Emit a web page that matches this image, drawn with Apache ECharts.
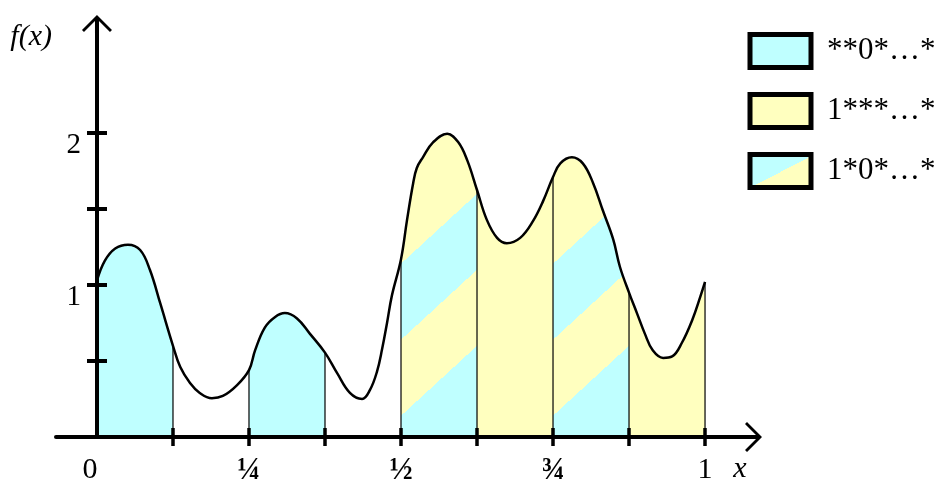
<!DOCTYPE html>
<html><head><meta charset="utf-8">
<script src="https://cdn.jsdelivr.net/npm/echarts@6/dist/echarts.min.js"></script>
<style>html,body{margin:0;padding:0;background:#fff}#c{width:938px;height:479px}</style>
</head><body><div id="c"></div>
<script>
// ---- data ----
const curveX = [0.000,0.013,0.030,0.051,0.071,0.087,0.104,0.125,0.137,0.153,0.169,0.189,0.207,0.230,0.250,0.260,0.276,0.293,0.309,0.329,0.350,0.375,0.395,0.416,0.436,0.449,0.4605,0.469,0.477,0.485,0.500,0.510,0.520,0.526,0.536,0.553,0.576,0.594,0.609,0.625,0.641,0.658,0.674,0.696,0.717,0.734,0.750,0.762,0.781,0.799,0.816,0.832,0.849,0.860,0.875,0.888,0.901,0.914,0.931,0.946,0.962,0.979,0.992,1.000];
const curveY = [1.03,1.16,1.24,1.265,1.23,1.10,0.88,0.60,0.46,0.355,0.29,0.255,0.27,0.34,0.44,0.57,0.72,0.79,0.815,0.78,0.68,0.555,0.42,0.29,0.25,0.31,0.43,0.58,0.75,0.93,1.17,1.43,1.67,1.77,1.84,1.94,1.995,1.94,1.82,1.625,1.43,1.31,1.275,1.31,1.42,1.555,1.71,1.80,1.84,1.80,1.67,1.49,1.30,1.12,0.95,0.815,0.68,0.57,0.52,0.53,0.62,0.77,0.92,1.02];
const segCyan = [[0, 0.125], [0.25, 0.375]];
const segYellow = [[0.625, 0.75], [0.875, 1]];
const segStriped = [[0.5, 0.625], [0.75, 0.875]];
const dividers = [0.125, 0.25, 0.375, 0.5, 0.625, 0.75, 0.875, 1];
const xTickValues = [0.125, 0.25, 0.375, 0.5, 0.625, 0.75, 0.875, 1];
const xLabelValues = [0, 0.25, 0.5, 0.75, 1];
const xLabelText = ['0', '¼', '½', '¾', '1'];
const yTickValues = [0.5, 1, 1.5, 2];
const yLabelValues = [1, 2];
const legendNames = ['**0*…*', '1***…*', '1*0*…*'];

// ---- style / layout ----
const CYAN = '#BFFFFF', YELLOW = '#FFFFBF';
const SERIF = '"Liberation Serif", "DejaVu Serif", serif';
const ARROW = 'path://M15,0 L30,15 L28,17 L17,6 L17,18 L13,18 L13,6 L2,17 L0,15 Z';
const GRID = { left: 56, right: 185, top: 24, bottom: 42 };
const W = 938;
const X_MIN = -0.0674, X_MAX = 1.0789, Y_MAX = 2.717;
// y axis sits at x = 0 inside the grid: shift it in from the grid's left edge
const Y_AXIS_OFFSET = -((0 - X_MIN) / (X_MAX - X_MIN)) * (W - GRID.left - GRID.right);
// stripe bands (value of f - slope*(x - segmentStart)): cyan below first edge, alternating, yellow above last
const STRIPE_SLOPE = 3.68;
const STRIPE_EDGES = [0.14, 0.64, 1.14];

function segPolygon(a, b, api) {
  const pts = [api.coord([a, 0])];
  for (let i = 0; i < curveX.length; i++) {
    if (curveX[i] >= a - 1e-9 && curveX[i] <= b + 1e-9) pts.push(api.coord([curveX[i], curveY[i]]));
  }
  pts.push(api.coord([b, 0]));
  return pts;
}
function fillRender(color) {
  return function (params, api) {
    return { type: 'polygon', shape: { points: segPolygon(api.value(0), api.value(1), api) },
      style: { fill: color, stroke: null } };
  };
}
function stripeRender(params, api) {
  const a = api.value(0), b = api.value(1);
  const g0 = STRIPE_EDGES[0] - 1, g1 = STRIPE_EDGES[STRIPE_EDGES.length - 1] + 1;
  const p0 = api.coord([a, g0]);
  const p1 = api.coord([b, g0 + STRIPE_SLOPE * (b - a)]);
  let ux = p1[0] - p0[0], uy = p1[1] - p0[1];
  const L = Math.hypot(ux, uy); ux /= L; uy /= L;
  const nx = uy, ny = -ux;
  const q = api.coord([a, g1]);
  const d = (q[0] - p0[0]) * nx + (q[1] - p0[1]) * ny;
  const ex = p0[0] + nx * d, ey = p0[1] + ny * d;
  const span = g1 - g0;
  const stops = [{ offset: 0, color: CYAN }];
  STRIPE_EDGES.forEach((e, k) => {
    const t = (e - g0) / span;
    const below = k % 2 === 0 ? CYAN : YELLOW, above = k % 2 === 0 ? YELLOW : CYAN;
    stops.push({ offset: t, color: below }, { offset: t, color: above });
  });
  stops.push({ offset: 1, color: YELLOW });
  return { type: 'polygon', shape: { points: segPolygon(a, b, api) },
    style: { fill: { type: 'linear', x: p0[0], y: p0[1], x2: ex, y2: ey, global: true, colorStops: stops }, stroke: null } };
}
function dividerRender(params, api) {
  const x = api.value(0);
  const i = curveX.findIndex(v => Math.abs(v - x) < 1e-9);
  const p = api.coord([x, 0]), q = api.coord([x, curveY[i]]);
  return { type: 'line', shape: { x1: p[0], y1: p[1], x2: q[0], y2: q[1] },
    style: { stroke: '#000', lineWidth: 1.2 } };
}

const legendGrad = { type: 'linear', x: 0, y: 0, x2: 0.46, y2: 1.54,
  colorStops: [{ offset: 0, color: CYAN }, { offset: 0.5, color: CYAN }, { offset: 0.5, color: YELLOW }, { offset: 1, color: YELLOW }] };

const axisCommon = { type: 'value', splitLine: { show: false }, z: 10 };
const chart = echarts.init(document.getElementById('c'), null, { renderer: 'canvas' });
chart.setOption({
  animation: false,
  backgroundColor: '#fff',
  grid: Object.assign({ containLabel: false, outerBoundsMode: 'none' }, GRID),
  xAxis: [
    Object.assign({}, axisCommon, {
      min: X_MIN, max: X_MAX, position: 'bottom',
      name: 'x', nameLocation: 'end', nameGap: -13,
      nameTextStyle: { fontFamily: SERIF, fontStyle: 'italic', fontSize: 30, color: '#000', align: 'center', verticalAlign: 'top', lineHeight: 64 },
      axisLine: { onZero: false, symbol: ['none', ARROW], symbolSize: [30, 18], lineStyle: { color: '#000', width: 4 } },
      axisTick: { customValues: xTickValues, length: 9, lineStyle: { color: '#000', width: 3.5 } },
      axisLabel: {
        customValues: xLabelValues, margin: 18,
        formatter: function (v) {
          const i = xLabelValues.findIndex(t => Math.abs(t - v) < 1e-9);
          const t = xLabelText[i];
          if (i === 0) return '{z|' + t + '}';
          return /[¼½¾]/.test(t) ? '{f|' + t + '}' : '{n|' + t + '}';
        },
        rich: {
          z: { fontFamily: SERIF, fontSize: 30, color: '#000', padding: [0, 14, 0, 0] },
          n: { fontFamily: SERIF, fontSize: 30, color: '#000' },
          f: { fontFamily: SERIF, fontSize: 31, fontWeight: 'bold', color: '#000' }
        }
      }
    }),
    Object.assign({}, axisCommon, {
      min: X_MIN, max: X_MAX, position: 'bottom',
      axisLine: { onZero: false, lineStyle: { color: '#000', width: 4, opacity: 0 } },
      axisTick: { customValues: xTickValues, inside: true, length: 9, lineStyle: { color: '#000', width: 3.5 } },
      axisLabel: { show: false }
    })
  ],
  yAxis: [
    Object.assign({}, axisCommon, {
      min: 0, max: Y_MAX, position: 'left', offset: Y_AXIS_OFFSET,
      name: 'f(x)', nameLocation: 'end', nameGap: -13,
      nameTextStyle: { fontFamily: SERIF, fontStyle: 'italic', fontSize: 30, color: '#000', align: 'right', verticalAlign: 'middle', padding: [0, 45, 0, 0] },
      axisLine: { onZero: false, symbol: ['none', ARROW], symbolSize: [30, 18], lineStyle: { color: '#000', width: 4 } },
      axisTick: { customValues: yTickValues, length: 10, lineStyle: { color: '#000', width: 4 } },
      axisLabel: { customValues: yLabelValues, margin: 16, fontFamily: SERIF, fontSize: 29, color: '#000', verticalAlign: 'top', lineHeight: 24 }
    }),
    Object.assign({}, axisCommon, {
      min: 0, max: Y_MAX, position: 'left', offset: Y_AXIS_OFFSET,
      axisLine: { onZero: false, lineStyle: { color: '#000', width: 4, opacity: 0 } },
      axisTick: { customValues: yTickValues, inside: true, length: 10, lineStyle: { color: '#000', width: 4 } },
      axisLabel: { show: false }
    })
  ],
  legend: {
    orient: 'vertical', left: 742.5, top: 25.5, icon: 'rect', itemWidth: 61, itemHeight: 33, itemGap: 19,
    selectedMode: false,
    itemStyle: { borderColor: '#000', borderWidth: 5 },
    textStyle: { fontFamily: SERIF, fontSize: 31, color: '#000', padding: [0, 0, 8, 11], lineHeight: 33 },
    data: [
      { name: legendNames[0], itemStyle: { color: CYAN } },
      { name: legendNames[1], itemStyle: { color: YELLOW } },
      { name: legendNames[2], itemStyle: { color: legendGrad } }
    ]
  },
  series: [
    { type: 'custom', name: legendNames[0], data: segCyan, renderItem: fillRender(CYAN), itemStyle: { color: CYAN }, z: 1 },
    { type: 'custom', name: legendNames[1], data: segYellow, renderItem: fillRender(YELLOW), itemStyle: { color: YELLOW }, z: 1 },
    { type: 'custom', name: legendNames[2], data: segStriped, renderItem: stripeRender, itemStyle: { color: CYAN }, z: 1 },
    { type: 'custom', data: dividers.map(v => [v, 0]), renderItem: dividerRender, z: 2 },
    { type: 'line', data: curveX.map((x, i) => [x, curveY[i]]), smooth: 0.4, showSymbol: false,
      lineStyle: { color: '#000', width: 2.5 }, z: 3 }
  ]
});
</script></body></html>
